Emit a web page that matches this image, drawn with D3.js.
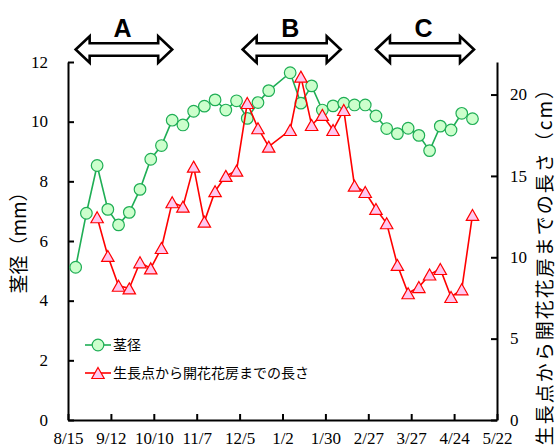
<!DOCTYPE html>
<html>
<head>
<meta charset="utf-8">
<script src="https://cdn.jsdelivr.net/npm/d3@7"></script>
<style>
    body { margin: 0; background: #fff; }
    .tick text { font-family: 'Liberation Serif', serif; font-size: 17px; fill: #000; }
</style>
</head>
<body>
<div id="chart-area"></div>
<script>
// 測定日（週1回, 12/31 は欠測）
const dates = ['2016-08-20', '2016-08-27', '2016-09-03', '2016-09-10', '2016-09-17', '2016-09-24',
    '2016-10-01', '2016-10-08', '2016-10-15', '2016-10-22', '2016-10-29', '2016-11-05', '2016-11-12',
    '2016-11-19', '2016-11-26', '2016-12-03', '2016-12-10', '2016-12-17', '2016-12-24', '2017-01-07',
    '2017-01-14', '2017-01-21', '2017-01-28', '2017-02-04', '2017-02-11', '2017-02-18', '2017-02-25',
    '2017-03-04', '2017-03-11', '2017-03-18', '2017-03-25', '2017-04-01', '2017-04-08', '2017-04-15',
    '2017-04-22', '2017-04-29', '2017-05-06']

// 茎径 (mm)
const stem = [5.12, 6.93, 8.53, 7.06, 6.54, 6.96, 7.73, 8.74, 9.20, 10.05, 9.89, 10.35, 10.52,
    10.73, 10.39, 10.70, 10.11, 10.64, 11.04, 11.64, 10.62, 11.20, 10.39, 10.53, 10.62, 10.56,
    10.56, 10.19, 9.77, 9.60, 9.78, 9.54, 9.03, 9.85, 9.72, 10.28, 10.10]

// 生長点から開花花房までの長さ (cm)
const length = [null, null, 12.46, 10.08, 8.25, 8.09, 9.69, 9.32, 10.57, 13.38, 13.11, 15.57,
    12.19, 14.06, 15.0, 15.32, 19.48, 17.93, 16.80, 17.82, 21.10, 18.13, 18.75, 17.82, 19.05,
    14.40, 14.01, 12.97, 12.09, 9.53, 7.79, 8.17, 8.94, 9.28, 7.56, 8.03, 12.60]

const xStart = '2016-08-15'
const xEnd = '2017-05-22'
const leftTicks = [0, 2, 4, 6, 8, 10, 12]
const rightTicks = [0, 5, 10, 15, 20]

const periods = [
    { label: 'A', start: '2016-08-20', end: '2016-10-22' },
    { label: 'B', start: '2016-12-07', end: '2017-02-09' },
    { label: 'C', start: '2017-03-04', end: '2017-05-07' }
]

const parse = d3.timeParse('%Y-%m-%d')
const jp = "'Noto Sans CJK JP', sans-serif"

const margin = { left: 68, right: 62, top: 62, bottom: 27 }
const W = 559
const H = 447
const width = W - margin.left - margin.right
const height = H - margin.top - margin.bottom

const svg = d3.select('#chart-area').append('svg')
    .attr('width', W)
    .attr('height', H)

const g = svg.append('g')
    .attr('transform', `translate(${margin.left}, ${margin.top})`)

const x = d3.scaleTime()
    .domain([parse(xStart), parse(xEnd)])
    .range([0, width])

const yL = d3.scaleLinear().domain([0, 12]).range([height, 0])
const yR = d3.scaleLinear().domain([0, 22]).range([height, 0])

const xTicks = d3.range(0, 281, 28).map(d => d3.timeDay.offset(parse(xStart), d))

// axes
const xAxis = g.append('g')
    .attr('transform', `translate(0, ${height})`)
    .call(d3.axisBottom(x).tickValues(xTicks).tickFormat(d3.timeFormat('%-m/%-d'))
        .tickSizeInner(-6).tickSizeOuter(0).tickPadding(9))

const leftAxis = g.append('g')
    .call(d3.axisLeft(yL).tickValues(leftTicks).tickSizeInner(-6).tickSizeOuter(0).tickPadding(20))

const rightAxis = g.append('g')
    .attr('transform', `translate(${width}, 0)`)
    .call(d3.axisRight(yR).tickValues(rightTicks).tickSizeInner(-6).tickSizeOuter(0).tickPadding(13))

;[xAxis, leftAxis, rightAxis].forEach(a => {
    a.select('.domain').attr('stroke', '#000').attr('stroke-width', 2)
    a.selectAll('.tick line').attr('stroke', '#000').attr('stroke-width', 2)
})
xAxis.selectAll('.tick text').attr('dy', '0.9em')
leftAxis.selectAll('.tick text').attr('dy', '0.3em')
rightAxis.selectAll('.tick text').attr('dy', '0.3em')

const stemData = dates.map((d, i) => ({ date: parse(d), v: stem[i] }))
const lenData = dates.map((d, i) => ({ date: parse(d), v: length[i] })).filter(d => d.v !== null)

const green = '#1fae55'
const red = '#ff0000'
const tri = 'M0,-5.5L6.2,5.5L-6.2,5.5Z'

// 茎径
g.append('path')
    .datum(stemData)
    .attr('fill', 'none')
    .attr('stroke', green)
    .attr('stroke-width', 1.6)
    .attr('d', d3.line().x(d => x(d.date)).y(d => yL(d.v)))

g.selectAll('.stem')
    .data(stemData).enter().append('circle')
    .attr('class', 'stem')
    .attr('cx', d => x(d.date))
    .attr('cy', d => yL(d.v))
    .attr('r', 5.8)
    .attr('fill', '#ccffcc')
    .attr('stroke', green)
    .attr('stroke-width', 1.2)

// 長さ
g.append('path')
    .datum(lenData)
    .attr('fill', 'none')
    .attr('stroke', red)
    .attr('stroke-width', 1.6)
    .attr('d', d3.line().x(d => x(d.date)).y(d => yR(d.v)))

g.selectAll('.len')
    .data(lenData).enter().append('path')
    .attr('class', 'len')
    .attr('d', tri)
    .attr('transform', d => `translate(${x(d.date)}, ${yR(d.v)})`)
    .attr('fill', '#ffc8f0')
    .attr('stroke', red)
    .attr('stroke-width', 1.2)

// legend
const legend = g.append('g').attr('transform', 'translate(17, 283)')
legend.append('line').attr('x1', 0).attr('x2', 26).attr('y1', 0).attr('y2', 0)
    .attr('stroke', green).attr('stroke-width', 1.6)
legend.append('circle').attr('cx', 13).attr('cy', 0).attr('r', 5.8)
    .attr('fill', '#ccffcc').attr('stroke', green).attr('stroke-width', 1.2)
legend.append('text').attr('x', 28).attr('y', 0).attr('dy', '0.35em')
    .attr('font-family', jp).attr('font-size', '14px').text('茎径')

legend.append('line').attr('x1', 0).attr('x2', 26).attr('y1', 28).attr('y2', 28)
    .attr('stroke', red).attr('stroke-width', 1.6)
legend.append('path').attr('d', tri).attr('transform', 'translate(13, 28)')
    .attr('fill', '#ffc8f0').attr('stroke', red).attr('stroke-width', 1.2)
legend.append('text').attr('x', 28).attr('y', 28).attr('dy', '0.35em')
    .attr('font-family', jp).attr('font-size', '14px').text('生長点から開花花房までの長さ')

// axis titles
svg.append('text')
    .attr('transform', 'translate(19, 238) rotate(-90)')
    .attr('text-anchor', 'middle')
    .attr('dy', '0.35em')
    .attr('font-family', jp)
    .attr('font-size', '19px')
    .text('茎径（mm）')

svg.append('text')
    .attr('transform', 'translate(545, 78) rotate(-90)')
    .attr('text-anchor', 'end')
    .attr('dy', '0.35em')
    .attr('font-family', jp)
    .attr('font-size', '19px')
    .attr('letter-spacing', '2px')
    .text('生長点から開花花房までの長さ（cm）')

// period arrows
const arrowY = 49.5
const headH = 13.3
const shaftH = 6.2
const headL = 14

periods.forEach(p => {
    const x0 = margin.left + x(parse(p.start))
    const x1 = margin.left + x(parse(p.end))
    const pts = [
        [x0, arrowY], [x0 + headL, arrowY - headH], [x0 + headL, arrowY - shaftH],
        [x1 - headL, arrowY - shaftH], [x1 - headL, arrowY - headH], [x1, arrowY],
        [x1 - headL, arrowY + headH], [x1 - headL, arrowY + shaftH],
        [x0 + headL, arrowY + shaftH], [x0 + headL, arrowY + headH]
    ]
    svg.append('path')
        .attr('d', 'M' + pts.map(q => q.join(',')).join('L') + 'Z')
        .attr('fill', '#fff')
        .attr('stroke', '#000')
        .attr('stroke-width', 2.6)
        .attr('stroke-linejoin', 'miter')
    svg.append('text')
        .attr('x', (x0 + x1) / 2 - 1.5)
        .attr('y', 37)
        .attr('text-anchor', 'middle')
        .attr('font-family', "'Liberation Sans', Arial, sans-serif")
        .attr('font-weight', 'bold')
        .attr('font-size', '25px')
        .text(p.label)
})
</script>
</body>
</html>
